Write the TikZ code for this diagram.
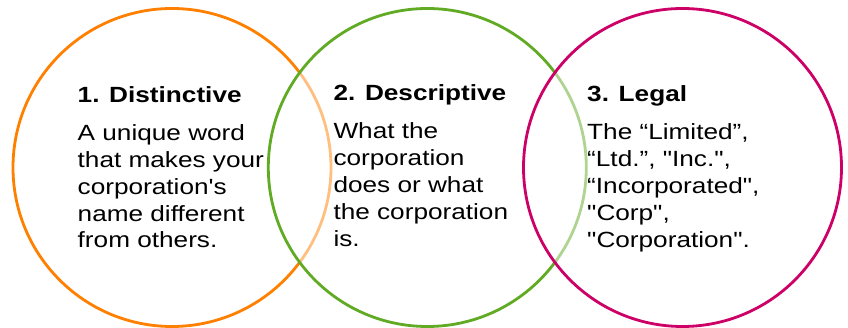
\documentclass[tikz,border=0pt]{standalone}
\usepackage{fontspec}
\newfontfamily\txtfont{Liberation Sans}[FakeStretch=1.19]
\definecolor{corange}{RGB}{255,128,0}
\definecolor{cgreen}{RGB}{96,170,36}
\definecolor{cmagenta}{RGB}{204,0,102}
\begin{document}
\begin{tikzpicture}[x=1pt,y=-1pt,
  ring/.style={circle,inner sep=0pt,minimum size=318pt,line width=2.8pt},
  overring/.style={ring,fill=white,fill opacity=0.5,draw opacity=1},
  title/.style={anchor=base west,inner sep=0pt,font=\txtfont\bfseries\fontsize{22}{26.8}\selectfont},
  body/.style={anchor=base west,inner sep=0pt,font=\txtfont\fontsize{22}{26.8}\selectfont}]
\useasboundingbox (0,0) rectangle (848,328);
\node[ring,draw=corange] (c1) at (172,167.5) {};
\node[overring,draw=cgreen] (c2) at (427.3,167.5) {};
\node[overring,draw=cmagenta] (c3) at (682.5,167.5) {};
\node[title] (t1) at (77.5,102.3) {1. Distinctive};
\node[title] (t2) at (333.3,101) {2. Descriptive};
\node[title] (t3) at (587,101.7) {3. Legal};
\node[body] (b1) at (77.5,140.7) {\begin{tabular}[t]{@{}l@{}}A unique word\\that makes your\\corporation's\\name different\\from others.\end{tabular}};
\node[body] (b2) at (333.3,139) {\begin{tabular}[t]{@{}l@{}}What the\\corporation\\does or what\\the corporation\\is.\end{tabular}};
\node[body] (b3) at (587,140) {\begin{tabular}[t]{@{}l@{}}The “Limited”,\\“Ltd.”, "Inc.",\\“Incorporated",\\"Corp",\\"Corporation".\end{tabular}};
\end{tikzpicture}
\end{document}
